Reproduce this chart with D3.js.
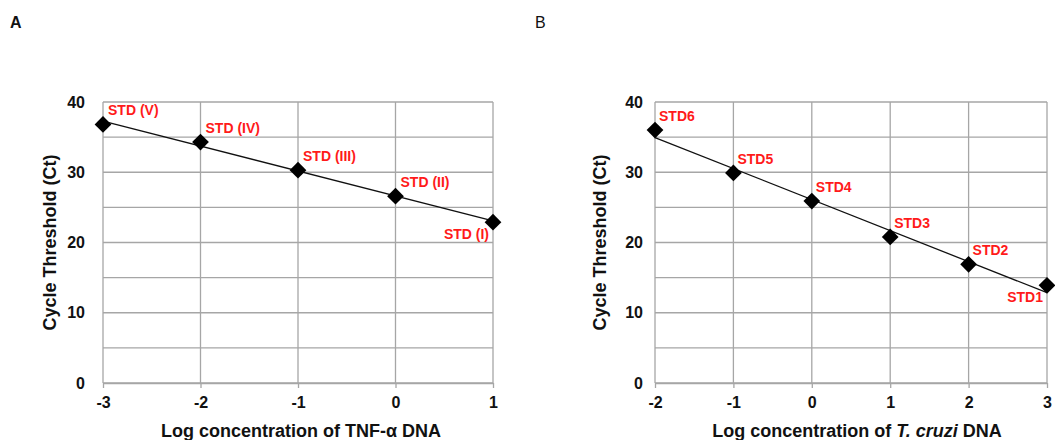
<!DOCTYPE html>
<html lang="en">
<head>
<meta charset="utf-8">
<title>Standard curves</title>
<script src="https://d3js.org/d3.v7.min.js"></script>
<style>
	body { margin: 0; background: #fff; }
	text { font-family: "Liberation Sans", Arial, sans-serif; }
</style>
</head>
<body>
<div id="chart"></div>
<script>
	// panel A : TNF-alpha standards
	const tnfLogConc = [-3, -2, -1, 0, 1];
	const tnfCt = [36.8, 34.3, 30.3, 26.6, 22.9];
	const tnfLabels = ["STD (V)", "STD (IV)", "STD (III)", "STD (II)", "STD (I)"];

	// panel B : T. cruzi standards
	const tcLogConc = [-2, -1, 0, 1, 2, 3];
	const tcCt = [36.0, 29.9, 25.9, 20.8, 16.9, 13.9];
	const tcLabels = ["STD6", "STD5", "STD4", "STD3", "STD2", "STD1"];

	const yTicks = [0, 10, 20, 30, 40];
	const yGrid = [0, 5, 10, 15, 20, 25, 30, 35, 40];

	const svg = d3.select("#chart")
		.append("svg")
		.attr("width", 1055)
		.attr("height", 440);

	const gridColor = "#a6a6a6";
	const ink = "#111";

	function panel(opt) {
		const x = d3.scaleLinear().domain(opt.xDomain).range([opt.left, opt.right]);
		const y = d3.scaleLinear().domain([0, 40]).range([383, 102]);
		const g = svg.append("g");

		// panel letter
		g.append("text")
			.attr("x", opt.letterX).attr("y", 28)
			.style("font-size", "16px").style("font-weight", opt.letterWeight)
			.attr("fill", ink)
			.text(opt.letter);

		// horizontal grid
		g.selectAll(".hgrid").data(yGrid).join("line")
			.attr("x1", x.range()[0]).attr("x2", x.range()[1])
			.attr("y1", d => y(d)).attr("y2", d => y(d))
			.attr("stroke", gridColor).attr("stroke-width", 1.3);

		// vertical grid
		const xt = d3.range(opt.xDomain[0], opt.xDomain[1] + 1);
		g.selectAll(".vgrid").data(xt).join("line")
			.attr("x1", d => x(d)).attr("x2", d => x(d))
			.attr("y1", y(0)).attr("y2", y(40))
			.attr("stroke", gridColor).attr("stroke-width", 1.3);

		// x axis
		const xa = g.append("g")
			.attr("transform", `translate(0,${y(0)})`)
			.call(d3.axisBottom(x).tickValues(xt).tickFormat(d => String(d)).tickSize(5).tickSizeOuter(0));
		xa.select(".domain").attr("stroke", gridColor).attr("stroke-width", 1.3);
		xa.selectAll(".tick line").attr("stroke", gridColor).attr("stroke-width", 1.3);
		xa.selectAll(".tick text")
			.attr("y", 14)
			.style("font-size", "16px").style("font-weight", "bold")
			.style("font-family", "'Liberation Sans', Arial, sans-serif")
			.attr("fill", ink);

		// y axis
		const ya = g.append("g")
			.attr("transform", `translate(${x.range()[0]},0)`)
			.call(d3.axisLeft(y).tickValues(yTicks).tickFormat(d => String(d)).tickSize(0).tickPadding(opt.yPad));
		ya.select(".domain").remove();
		ya.selectAll(".tick text")
			.style("font-size", "16px").style("font-weight", "bold")
			.style("font-family", "'Liberation Sans', Arial, sans-serif")
			.attr("fill", ink);

		// axis titles
		g.append("text")
			.attr("transform", `translate(${opt.yTitleX},${(y(0) + y(40)) / 2}) rotate(-90)`)
			.attr("text-anchor", "middle")
			.attr("dy", "0.35em")
			.style("font-size", "18px").style("font-weight", "bold")
			.attr("fill", ink)
			.text("Cycle Threshold (Ct)");

		const xt2 = g.append("text")
			.attr("x", (x.range()[0] + x.range()[1]) / 2 + opt.titleShift)
			.attr("y", 437)
			.attr("text-anchor", "middle")
			.style("font-size", "18px").style("font-weight", "bold")
			.attr("fill", ink);
		opt.xTitle.forEach(p => {
			xt2.append("tspan").style("font-style", p.italic ? "italic" : "normal").text(p.t);
		});

		// regression line
		const xs = opt.xs, ys = opt.ys;
		const mx = d3.mean(xs), my = d3.mean(ys);
		const slope = d3.sum(xs, (v, i) => (v - mx) * (ys[i] - my)) / d3.sum(xs, v => (v - mx) * (v - mx));
		const icpt = my - slope * mx;
		const ends = d3.extent(xs);
		g.append("path")
			.attr("d", d3.line().x(d => x(d)).y(d => y(icpt + slope * d))(ends))
			.attr("stroke", ink).attr("stroke-width", 1.3).attr("fill", "none");

		// markers
		const pts = xs.map((v, i) => ({ x: v, y: ys[i], label: opt.labels[i], last: i === xs.length - 1 }));
		g.selectAll(".pt").data(pts).join("path")
			.attr("d", d3.symbol().type(d3.symbolSquare).size(140))
			.attr("transform", d => `translate(${x(d.x)},${y(d.y)}) rotate(45)`)
			.attr("fill", "#000");

		// point labels
		g.selectAll(".lab").data(pts).join("text")
			.attr("x", d => x(d.x) + (d.last ? -4 : opt.labDx))
			.attr("y", d => y(d.y) + (d.last ? 17 : -9))
			.attr("text-anchor", d => d.last ? "end" : "start")
			.style("font-size", "14px").style("font-weight", "bold")
			.attr("fill", "#ff1a1a")
			.text(d => d.label);
	}

	panel({
		letter: "A", letterX: 10, letterWeight: "bold",
		xDomain: [-3, 1], left: 103, right: 493,
		xs: tnfLogConc, ys: tnfCt, labels: tnfLabels,
		yPad: 18, yTitleX: 50, titleShift: 3, labDx: 5,
		xTitle: [{ t: "Log concentration of TNF-\u03b1 DNA" }]
	});

	panel({
		letter: "B", letterX: 535, letterWeight: "normal",
		xDomain: [-2, 3], left: 655, right: 1047,
		xs: tcLogConc, ys: tcCt, labels: tcLabels,
		yPad: 12, yTitleX: 600, titleShift: 6, labDx: 4,
		xTitle: [{ t: "Log concentration of " }, { t: "T. cruzi", italic: true }, { t: " DNA" }]
	});
</script>
</body>
</html>
